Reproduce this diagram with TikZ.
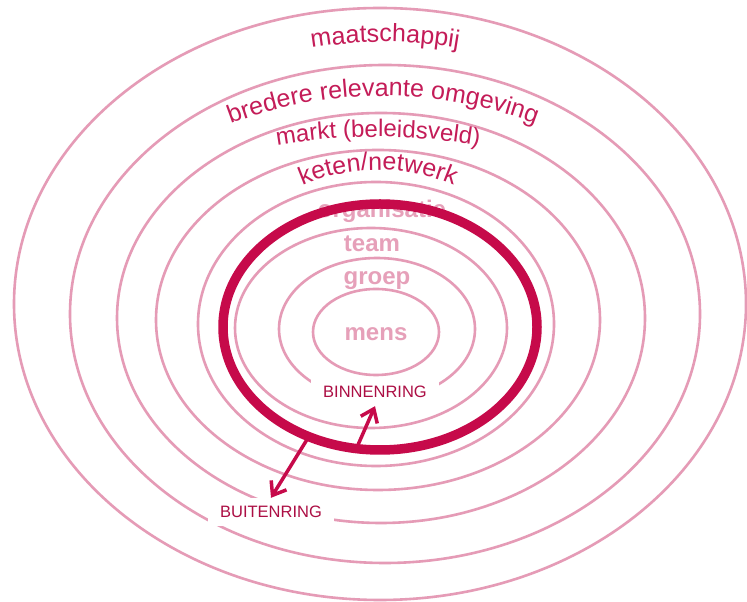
\documentclass[tikz,border=0pt]{standalone}
\usepackage{fontspec}
\setmainfont{Liberation Sans}
\usetikzlibrary{shapes.geometric,arrows.meta,decorations.text}

\definecolor{ringpink}{RGB}{229,155,182}
\definecolor{ringred}{RGB}{198,10,74}
\definecolor{outerlab}{RGB}{196,28,88}
\definecolor{innerlab}{RGB}{230,160,185}
\definecolor{boxlab}{RGB}{172,14,68}
\newcommand\arcfont{\fontsize{25pt}{25pt}\selectfont\color{outerlab}}
\newcommand\arcfontsm{\fontsize{24pt}{24pt}\selectfont\color{outerlab}}

\begin{document}
\begin{tikzpicture}[x=1pt,y=1pt,
  ring/.style={ellipse, draw=ringpink, line width=2.6pt, inner sep=0pt, outer sep=0pt},
  thickring/.style={ellipse, draw=ringred, line width=9.5pt, inner sep=0pt, outer sep=0pt},
  innertext/.style={font=\fontsize{24pt}{24pt}\selectfont\bfseries, text=innerlab, anchor=base, inner sep=0pt},
  ringlabel/.style={fill=white, font=\fontsize{16.5pt}{16.5pt}\selectfont, text=boxlab,
    inner xsep=12pt, inner ysep=0pt, minimum height=28pt},
  link/.style={draw=ringred, line width=3.5pt, -{Straight Barb[length=12pt,width=18pt]}}
]
\fill[white] (0,0) rectangle (747,602);
\useasboundingbox (0,0) rectangle (747,602);

% thin rings, outside in
\node[ring, minimum width=732pt, minimum height=592pt] (r1) at (380,298) {};
\node[ring, minimum width=630pt, minimum height=498pt] (r2) at (385,288) {};
\node[ring, minimum width=528pt, minimum height=410pt] (r3) at (381,284) {};
\node[ring, minimum width=444pt, minimum height=340pt] (r4) at (378,282) {};
\node[ring, minimum width=356pt, minimum height=284pt] (r5) at (376,278) {};
\node[ring, minimum width=272pt, minimum height=200pt] (rteam) at (371,274) {};
\node[ring, minimum width=196pt, minimum height=142pt] (rgroep) at (377,273) {};
\node[ring, minimum width=126pt, minimum height=86pt] (rmens) at (376,270) {};

% curved labels of the outer rings
\path[decorate, decoration={text along path, text align=center,
  text={|\arcfont|maatschappij}}]
  (385,110) ++(120:450pt) arc[start angle=120, end angle=60, radius=450pt];
\path[decorate, decoration={text along path, text align=center,
  text={|\arcfont|bredere relevante omgeving}}]
  (383,76) ++(128:430pt) arc[start angle=128, end angle=52, radius=430pt];
\path[decorate, decoration={text along path, text align=center,
  text={|\arcfontsm|markt (beleidsveld)}}]
  (378,-135) ++(105:600pt) arc[start angle=105, end angle=75, radius=600pt];
\path[decorate, decoration={text along path, text align=center,
  text={|\arcfont|keten/netwerk}}]
  (378,242) ++(135:190pt) arc[start angle=135, end angle=45, radius=190pt];

% inner labels
\node[innertext] (organisatie) at (382,384) {organisatie};
\node[innertext] (team) at (372,350) {team};
\node[innertext] (groep) at (377,317) {groep};
\node[innertext] (mens) at (376,261) {mens};

% the emphasised boundary ring
\node[thickring, minimum width=314pt, minimum height=246pt] (thick) at (380,275) {};

% ring names
\node[ringlabel] (binnen) at (375,210) {BINNENRING};
\node[ringlabel] (buiten) at (271,90) {BUITENRING};

\draw[link] (thick.-101) -- (binnen.south);
\draw[link] (thick.-123) -- (buiten.north);
\end{tikzpicture}
\end{document}
